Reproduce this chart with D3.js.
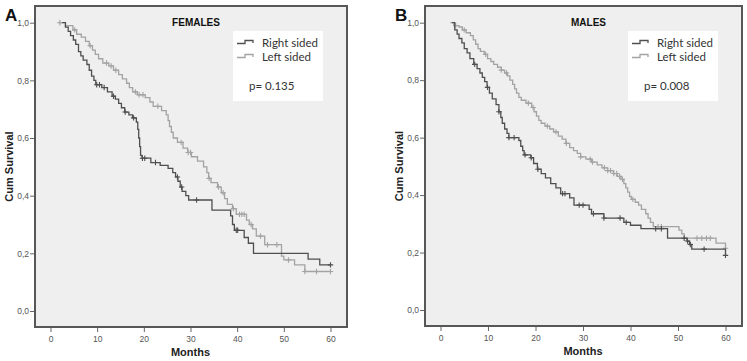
<!DOCTYPE html>
<html>
<head>
<meta charset="utf-8">
<script src="https://cdn.jsdelivr.net/npm/d3@7"></script>
<style>
  body { margin: 0; background: #fff; }
  svg { display: block; }
</style>
</head>
<body>
<div id="chart"></div>
<script>
// Kaplan-Meier survival, right vs left sided, by sex (two panels)

const xTicks = [0, 10, 20, 30, 40, 50, 60];
const yTicks = [0, 0.2, 0.4, 0.6, 0.8, 1.0];
const seriesNames = ["Right sided", "Left sided"];

// Panel A - females: [month, cum survival] steps
const femalesRight = [
  [2.5,1.0],[3.2,0.985],[3.8,0.97],[4.3,0.955],[4.9,0.94],[5.4,0.925],[6.0,0.90],[6.5,0.885],
  [7.0,0.87],[7.8,0.855],[8.3,0.835],[8.8,0.815],[9.3,0.80],[9.7,0.785],[11.0,0.775],[12.2,0.76],
  [13.2,0.745],[13.9,0.735],[14.6,0.72],[15.2,0.705],[15.9,0.69],[16.8,0.68],[17.6,0.67],[18.4,0.655],
  [18.7,0.63],[18.9,0.60],[19.1,0.57],[19.3,0.54],[19.6,0.53],[21.5,0.515],[23.5,0.505],[25.2,0.495],
  [26.2,0.48],[26.8,0.465],[27.3,0.45],[27.8,0.43],[28.2,0.415],[29.0,0.40],[29.6,0.385],[34.6,0.35],
  [38.6,0.33],[39.0,0.30],[39.4,0.28],[41.5,0.255],[42.4,0.235],[43.5,0.20],[55.2,0.18],[57.7,0.16],[60,0.16]
];
const femalesRightCensored = [9.9, 10.5, 11.5, 13.5, 16, 17.8, 19.7, 20.2, 22.5, 27.2, 28.1, 31.3, 39.8, 40.1, 60];

const femalesLeft = [
  [1.8,1.0],[3.2,0.99],[4.8,0.975],[5.6,0.96],[6.6,0.95],[7.5,0.935],[8.3,0.92],[9.0,0.905],[9.6,0.89],
  [10.3,0.875],[11.2,0.86],[12.5,0.85],[13.5,0.835],[14.6,0.82],[15.4,0.805],[16.3,0.79],[16.9,0.775],
  [17.6,0.76],[18.6,0.75],[20.3,0.74],[21.3,0.725],[22.0,0.71],[23.8,0.695],[24.8,0.68],[25.2,0.66],
  [25.5,0.64],[25.9,0.62],[26.3,0.60],[27.2,0.585],[28.4,0.565],[29.4,0.55],[30.2,0.535],[31.5,0.52],
  [32.8,0.50],[33.5,0.48],[33.9,0.46],[34.4,0.445],[35.8,0.43],[36.6,0.41],[37.3,0.39],[37.9,0.37],
  [39.0,0.355],[39.8,0.335],[42.0,0.315],[42.6,0.30],[43.3,0.285],[44.1,0.26],[45.9,0.23],[49.5,0.19],
  [50.0,0.177],[52.3,0.16],[54.5,0.137],[60,0.137]
];
const femalesLeftCensored = [2.0, 5.2, 8.5, 12, 13, 14, 18.2, 19, 19.8, 23, 28, 29.5, 30, 34, 36, 37,
  39.2, 40.5, 41, 41.5, 43, 45, 46.5, 48.5, 51, 54.5, 57, 60];

// Panel B - males
const malesRight = [
  [2.4,1.0],[3.0,0.975],[3.5,0.96],[3.9,0.945],[4.5,0.93],[5.0,0.91],[5.6,0.895],[6.2,0.875],[7.0,0.855],
  [7.7,0.84],[8.3,0.825],[8.8,0.81],[9.3,0.795],[9.8,0.775],[10.3,0.755],[10.9,0.735],[11.7,0.715],
  [12.3,0.69],[12.7,0.67],[13.0,0.65],[13.5,0.63],[14.0,0.615],[14.4,0.60],[16.5,0.59],[16.9,0.57],
  [17.3,0.555],[17.6,0.54],[19.0,0.53],[19.6,0.51],[20.4,0.49],[21.2,0.475],[22.1,0.46],[23.2,0.44],
  [24.3,0.425],[25.3,0.405],[27.2,0.39],[28.1,0.365],[31.3,0.35],[31.8,0.335],[34.4,0.32],[38.6,0.305],
  [40.0,0.295],[42.2,0.283],[47.8,0.25],[51.9,0.24],[52.4,0.228],[52.9,0.212],[60,0.19]
];
const malesRightCensored = [7.2, 9.9, 12.3, 14.4, 15.5, 17.8, 19.1, 20.5, 25.7, 26.2, 29.2, 30, 32.2,
  34.4, 37.8, 39.1, 45.3, 46.5, 51.3, 52, 52.6, 55.5, 60];

const malesLeft = [
  [2.1,1.0],[2.8,0.99],[3.9,0.985],[4.6,0.975],[5.4,0.965],[6.3,0.955],[6.9,0.94],[7.4,0.925],[7.9,0.91],
  [8.4,0.90],[9.2,0.89],[9.9,0.875],[10.6,0.865],[11.2,0.855],[12.0,0.845],[12.8,0.835],[13.5,0.825],
  [14.1,0.815],[14.6,0.80],[15.2,0.785],[15.6,0.77],[16.0,0.755],[16.5,0.74],[17.0,0.73],[18.0,0.72],
  [19.2,0.705],[19.7,0.69],[20.2,0.675],[20.7,0.66],[21.2,0.65],[22.0,0.64],[23.0,0.63],[23.8,0.62],
  [24.8,0.605],[25.6,0.595],[26.4,0.58],[27.2,0.565],[28.0,0.555],[28.8,0.545],[29.5,0.533],[30.6,0.525],
  [31.8,0.515],[33.0,0.505],[34.0,0.495],[35.2,0.485],[36.4,0.475],[37.2,0.465],[38.0,0.455],[38.6,0.44],
  [39.0,0.425],[39.4,0.41],[39.8,0.395],[40.2,0.385],[41.0,0.375],[41.7,0.365],[42.3,0.35],[43.2,0.335],
  [43.7,0.32],[44.2,0.305],[44.8,0.29],[50.2,0.278],[50.8,0.265],[51.3,0.25],[58.0,0.233],[60,0.215]
];
const malesLeftCensored = [3.2, 5.0, 9.5, 12.8, 13.9, 18.5, 19.5, 22.5, 24.3, 26.5, 29.5, 31.5, 32,
  34.5, 35.2, 35.8, 36.5, 37.1, 37.7, 38.3, 40.5, 45.8, 46.5, 54, 55, 56, 56.8, 60];

const COLORS = { right: "#4f4f4f", left: "#a3a3a3" };

const W = 747, H = 361;
const svg = d3.select("#chart").append("svg")
  .attr("width", W).attr("height", H)
  .attr("viewBox", `0 0 ${W} ${H}`)
  .style("font-family", "Arial, 'Liberation Sans', sans-serif");

const commaFmt = d3.formatLocale({ decimal: ",", thousands: ".", grouping: [3], currency: ["", ""] }).format(".1f");

function survivalAt(steps, t) {
  let s = steps[0][1];
  for (const [m, v] of steps) { if (m <= t) s = v; else break; }
  return s;
}

function drawPanel(cfg) {
  const { box, letter, title, p, right, rightCens, left, leftCens } = cfg;
  const g = svg.append("g");

  const x = d3.scaleLinear().domain([0, 60]).range([box.x0 + 15.5, box.x1 - 16.5]);
  const y = d3.scaleLinear().domain([0, 1]).range([box.y1 - 16, box.y0 + 16.7]);

  // plot background + frame
  g.append("rect")
    .attr("x", box.x0).attr("y", box.y0)
    .attr("width", box.x1 - box.x0).attr("height", box.y1 - box.y0)
    .attr("fill", "#efefef").attr("stroke", "#575757").attr("stroke-width", 2);

  // axes
  const yAxis = g.append("g")
    .attr("transform", `translate(${box.x0 - 1},0)`)
    .call(d3.axisLeft(y).tickValues(yTicks).tickFormat(commaFmt).tickSize(4).tickPadding(1));
  const xAxis = g.append("g")
    .attr("transform", `translate(0,${box.y1 + 1})`)
    .call(d3.axisBottom(x).tickValues(xTicks).tickSize(4).tickPadding(4));
  [xAxis, yAxis].forEach(a => {
    a.select(".domain").remove();
    a.selectAll("line").attr("stroke", "#666");
    a.selectAll("text").attr("fill", "#555").style("font-size", "8.5px").style("font-family", "Arial, 'Liberation Sans', sans-serif");
  });

  // axis titles
  g.append("text")
    .attr("transform", `translate(${box.x0 - 22},${(box.y0 + box.y1) / 2}) rotate(-90)`)
    .attr("text-anchor", "middle")
    .style("font-size", "11px").style("font-weight", "bold").attr("fill", "#222")
    .text("Cum Survival");
  g.append("text")
    .attr("x", x(30)).attr("y", box.y1 + 29)
    .attr("text-anchor", "middle")
    .style("font-size", "11px").style("font-weight", "bold").attr("fill", "#222")
    .text("Months");

  // panel letter + title
  g.append("text")
    .attr("x", box.x0 - 30).attr("y", box.y0 + 15)
    .style("font-size", "17px").style("font-weight", "bold").attr("fill", "#111")
    .text(letter);
  g.append("text")
    .attr("x", (box.x0 + box.x1) / 2 + 5).attr("y", box.y0 + 20)
    .attr("text-anchor", "middle")
    .style("font-size", "10px").style("font-weight", "bold").attr("fill", "#111")
    .text(title);

  // curves
  const line = d3.line().x(d => x(d[0])).y(d => y(d[1])).curve(d3.curveStepAfter);
  const cross = 2.7;
  [[left, leftCens, COLORS.left], [right, rightCens, COLORS.right]].forEach(([steps, cens, col]) => {
    g.append("path").datum(steps)
      .attr("d", line).attr("fill", "none")
      .attr("stroke", col).attr("stroke-width", 1.3);
    g.append("g").selectAll("path")
      .data(cens)
      .join("path")
      .attr("d", t => {
        const cx = x(t), cy = y(survivalAt(steps, t));
        return `M${cx - cross},${cy}H${cx + cross}M${cx},${cy - cross}V${cy + cross}`;
      })
      .attr("stroke", col).attr("stroke-width", 1.1);
  });

  // legend
  const lx0 = box.x1 - 114, ly0 = box.y0 + 25;
  const lg = g.append("g").attr("transform", `translate(${lx0},${ly0})`);
  lg.append("rect").attr("width", 90).attr("height", 70).attr("fill", "#fff");
  const legendCols = [COLORS.right, COLORS.left];
  seriesNames.forEach((name, i) => {
    const yy = 12 + i * 14;
    lg.append("path")
      .attr("d", `M4,${yy + 0.5}H12V${yy - 2.5}H20V${yy}`)
      .attr("fill", "none").attr("stroke", legendCols[i]).attr("stroke-width", 1.3);
    lg.append("text")
      .attr("x", 29).attr("y", yy + 3.5)
      .style("font-family", "Lato, 'Open Sans', sans-serif").style("font-size", "11.5px")
      .attr("fill", "#333")
      .text(name);
  });
  lg.append("text")
    .attr("x", 16).attr("y", 59)
    .style("font-family", "Lato, 'Open Sans', sans-serif").style("font-size", "11.5px")
    .attr("fill", "#333")
    .text(p);
}

drawPanel({
  box: { x0: 35, x1: 347, y0: 6, y1: 327 },
  letter: "A", title: "FEMALES", p: "p= 0.135",
  right: femalesRight, rightCens: femalesRightCensored,
  left: femalesLeft, leftCens: femalesLeftCensored
});
drawPanel({
  box: { x0: 425, x1: 742, y0: 6, y1: 326 },
  letter: "B", title: "MALES", p: "p= 0.008",
  right: malesRight, rightCens: malesRightCensored,
  left: malesLeft, leftCens: malesLeftCensored
});
</script>
</body>
</html>
